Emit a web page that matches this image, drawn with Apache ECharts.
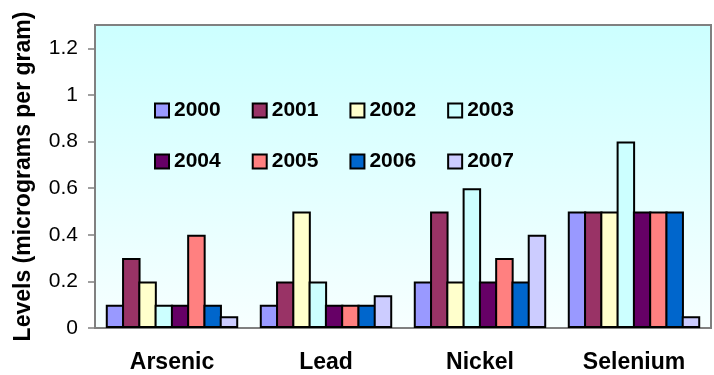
<!DOCTYPE html>
<html>
<head>
<meta charset="utf-8">
<script src="https://cdn.jsdelivr.net/npm/echarts@6/dist/echarts.min.js"></script>
<style>html,body{margin:0;padding:0;background:#fff;}#c{width:714px;height:375px;}</style>
</head>
<body>
<div id="c"></div>
<script>
var categories = ['Arsenic', 'Lead', 'Nickel', 'Selenium'];
var years = ['2000', '2001', '2002', '2003', '2004', '2005', '2006', '2007'];
var v2000 = [0.1, 0.1, 0.2, 0.5];
var v2001 = [0.3, 0.2, 0.5, 0.5];
var v2002 = [0.2, 0.5, 0.2, 0.5];
var v2003 = [0.1, 0.2, 0.6, 0.8];
var v2004 = [0.1, 0.1, 0.2, 0.5];
var v2005 = [0.4, 0.1, 0.3, 0.5];
var v2006 = [0.1, 0.1, 0.2, 0.5];
var v2007 = [0.05, 0.14, 0.4, 0.05];
var yTicks = [0, 0.2, 0.4, 0.6, 0.8, 1, 1.2];
var values = [v2000, v2001, v2002, v2003, v2004, v2005, v2006, v2007];
var colors = ['#9999FF', '#993366', '#FFFFCC', '#CCFFFF', '#660066', '#FF8080', '#0066CC', '#CCCCFF'];
var FONT = 'Arial, "Liberation Sans", sans-serif';

var series = years.map(function (y, i) {
  return {
    name: y,
    type: 'bar',
    data: values[i],
    barGap: '-12%',
    barCategoryGap: '14%',
    itemStyle: { color: colors[i], borderColor: '#000', borderWidth: 2 }
  };
});

function legendRow(names, top) {
  return {
    data: names,
    left: 149,
    top: top,
    orient: 'horizontal',
    itemWidth: 14,
    itemHeight: 14,
    itemGap: 31,
    icon: 'rect',
    itemStyle: { borderColor: '#000', borderWidth: 2 },
    textStyle: { fontFamily: FONT, fontSize: 21, fontWeight: 'bold', color: '#000' }
  };
}

var chart = echarts.init(document.getElementById('c'));
chart.setOption({
  animation: false,
  textStyle: { fontFamily: FONT },
  legend: [legendRow(years.slice(0, 4), 95), legendRow(years.slice(4), 146)],
  grid: {
    left: 95, right: 3, top: 25, bottom: 47,
    outerBoundsMode: 'none',
    containLabel: false,
    show: true,
    borderColor: '#808080',
    borderWidth: 2,
    backgroundColor: { type: 'linear', x: 0, y: 0, x2: 0, y2: 1,
      colorStops: [{ offset: 0, color: '#CCFFFF' }, { offset: 1, color: '#F7FFFF' }] }
  },
  xAxis: {
    type: 'category',
    data: categories,
    axisLine: { lineStyle: { color: '#808080', width: 2 } },
    axisTick: { length: 7, lineStyle: { color: '#808080', width: 1.5 } },
    axisLabel: { margin: 23, fontFamily: FONT, fontSize: 23, fontWeight: 'bold', color: '#000' }
  },
  yAxis: {
    type: 'value',
    min: 0, max: 1.3, interval: 0.2,
    name: 'Levels (micrograms per gram)',
    nameLocation: 'middle',
    nameGap: 60,
    nameTextStyle: { fontFamily: FONT, fontSize: 23, fontWeight: 'bold', color: '#000' },
    splitLine: { show: false },
    axisLine: { show: true, lineStyle: { color: '#808080', width: 2 } },
    axisTick: { show: true, length: 7, customValues: yTicks, lineStyle: { color: '#808080', width: 1.5 } },
    axisLabel: { margin: 17, customValues: yTicks, fontFamily: FONT, fontSize: 21, color: '#000',
      formatter: function (v) { return String(Math.round(v * 10) / 10); } }
  },
  series: series
});
</script>
</body>
</html>
